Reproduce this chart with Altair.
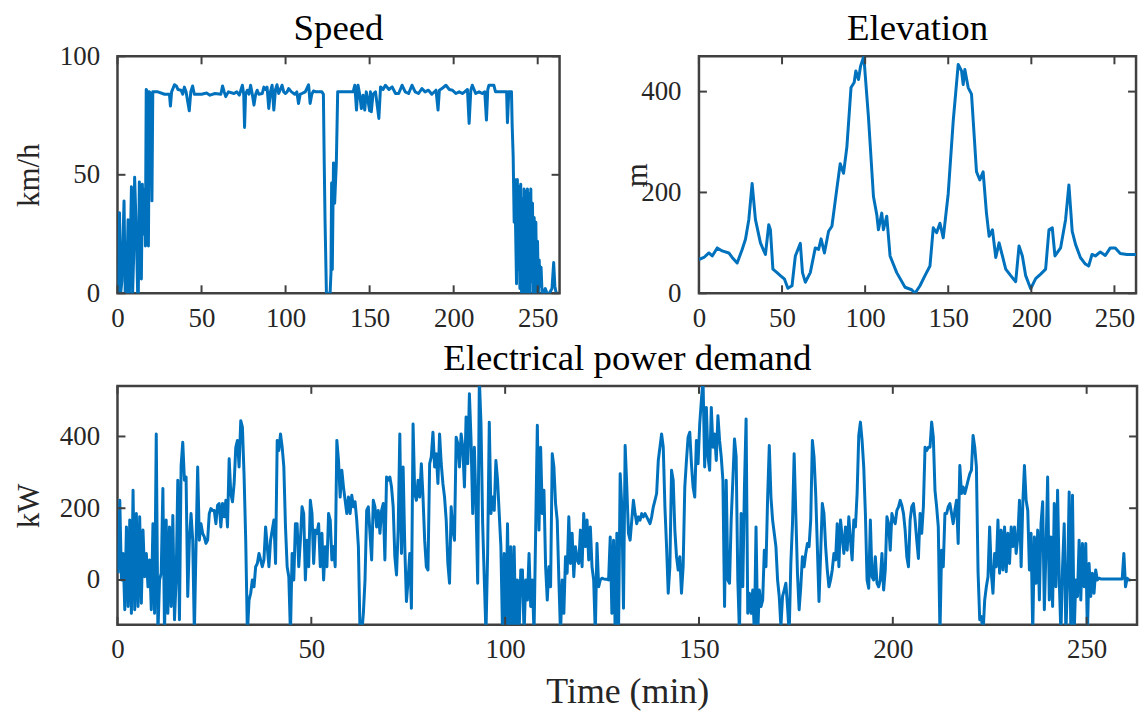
import altair as alt
import pandas as pd

# ---------------- data ----------------
X_TICKS = [0, 50, 100, 150, 200, 250]
X_DOMAIN = [0, 263]

speed_t = [0, 0.5, 1.2, 1.9, 2.6, 3.9, 4.6, 5.3, 6.3, 7.1, 8.3, 9.0, 9.6, 10.2, 10.8, 11.4,
           12.0, 12.4, 13.0, 13.7, 14.2, 14.8, 15.5, 16.2, 16.6, 17.1, 17.8, 18.4, 19.0, 20.0,
           20.5, 21.0, 24, 28, 30.9, 31.5, 32.2, 33.9, 35.0, 36.0, 37.8, 38.8, 39.8, 40.8,
           42.7, 43.6, 44.7, 45.7, 50, 53, 55, 58, 61.5, 62.5, 63.5, 64.4, 66, 69.3, 71, 72.5,
           74.3, 75.1, 75.6, 76.2, 77.2, 78.2, 79.2, 80.2, 81.2, 82.2, 83.1, 84.1, 86.1, 87.1,
           88.0, 89.0, 90.0, 91.0, 92.0, 93.0, 94.0, 94.9, 95.9, 96.9, 97.9, 98.9, 99.9, 100.9,
           101.8, 103.5, 105.5, 106.7, 107.7, 108.7, 109.7, 111.7, 113.7, 114.6, 115.6, 116.6,
           118, 121.6, 122.5, 123.0, 123.5, 124.3, 125.5, 126.5, 127.0, 127.4, 127.8, 128.5,
           129.2, 130.2, 131.0, 133, 136, 140.2, 141.2, 142.2, 143.1, 144.1, 145.1, 146.1,
           147.1, 148.0, 149.0, 150.0, 150.5, 151.0, 152.0, 153.5, 155.5, 156.5, 158, 159.4,
           161.5, 163.4, 165.4, 167.3, 169.3, 171.2, 173.2, 175.2, 177.1, 179.1, 181.1, 183.0,
           185.0, 187.0, 189.5, 190.7, 191.5, 193.0, 195.4, 197.4, 199.3, 201.3, 203.3, 205.2,
           206.5, 208.2, 209.2, 210.2, 211.1, 213.1, 215.1, 217.0, 218.5, 219.5, 220.3, 221.0,
           223.9, 224.9, 227, 230, 231.5, 232.0, 232.8, 234.4, 234.8, 235.4, 236.0, 236.4,
           236.9, 237.4, 237.9, 238.4, 238.9, 239.4, 239.9, 240.4, 240.9, 241.4, 241.9, 242.4,
           242.9, 243.4, 243.9, 244.4, 244.9, 245.4, 245.9, 246.4, 246.9, 247.4, 247.9, 248.4,
           248.9, 249.4, 249.9, 250.4, 250.9, 251.4, 252.0, 252.6, 253.5, 254.5, 255.5, 257,
           258.5, 259.5, 260.2, 261.0, 262.5]
speed_v = [0, 0, 34, 0, 5, 39, 0, 0, 31, 0, 45, 0, 15, 49, 35, 20,
           0, 0, 47, 30, 6, 46, 25, 44, 20, 86, 85, 20, 85, 84,
           39, 85, 85, 84, 84, 79, 85, 88, 87.5, 86, 85.7, 84, 87, 85,
           77, 85, 87.5, 84, 84, 84.5, 83.6, 84.3, 84, 87.5, 85, 83, 85, 84.3, 85, 83.6,
           87.8, 84, 70, 84, 85.7, 84, 87.8, 84, 79.4, 84, 85.7, 84, 84.3, 87,
           86, 87, 78, 85, 87.8, 77.3, 86, 88, 84.3, 86, 87.8, 85, 84.3, 85,
           86.4, 85, 84, 85, 80.1, 84, 84.3, 85, 88, 80.1, 84, 85.4,
           85, 85, 84, 55, 30, 0, 0, 0, 8.7, 46.5, 10, 55,
           38, 55, 85, 85, 85, 85, 87.8, 77.3, 87.8, 84, 78, 83.6,
           77.3, 85, 81.5, 77, 85, 76.6, 84, 85, 73.8, 87.1, 86, 87.8,
           86, 87.1, 84.3, 84.3, 87.8, 85, 84.3, 87.8, 85, 84.3, 86.4, 85,
           85.7, 84, 85.7, 77.3, 85.7, 86.4, 87.8, 86, 85.7, 84.3, 85, 84.3,
           85, 86, 71.7, 85.7, 87.8, 84.3, 85, 84.3, 85, 73.1, 86, 87.8,
           87.8, 85, 85, 85, 85, 72, 85, 85, 71, 58, 30, 48,
           25, 4, 48, 10, 45, 2, 46, 0, 40, 0, 44, 0,
           43, 0, 44, 0, 42, 0, 44, 5, 38, 0, 32, 0,
           30, 0, 22, 0, 14, 3, 11, 0, 0, 2, 0, 0,
           2, 13, 3, 0, 0]

elev_t = [0, 3, 6, 8, 11, 14, 18, 20, 23, 26, 28, 30, 32, 34, 37, 40, 42, 43, 44.5, 47,
          49, 51.5, 53.5, 56, 58, 61, 62.3, 64, 67, 70, 72, 73.5, 75.5, 78, 80, 83, 85, 87,
          89, 91.5, 93.4, 94.4, 96, 97.2, 99.2, 102, 105, 107, 108, 110, 111, 113, 115, 119,
          124, 128, 130, 133, 136, 139, 141, 143, 145, 147, 150, 153, 156, 158, 159, 160,
          162, 164, 167, 169, 171, 173, 174.6, 176.6, 178.6, 180.6, 182.6, 184.6, 187.6,
          190.6, 192.6, 194.6, 196.6, 199.6, 202.6, 205.6, 208.6, 210.6, 212.6, 214.2, 217.6,
          220.6, 222.6, 224.6, 226.6, 229.5, 232.5, 234.5, 236.5, 238.5, 241.5, 244.5, 247.5,
          250.5, 253.5, 257.5, 263]
elev_m = [67, 71, 80, 74, 90, 84, 80, 71, 60, 87, 107, 146, 218, 146, 100, 77, 136, 126, 48, 41,
          35, 28, 10, 15, 74, 99, 41, 22, 41, 90, 87, 108, 80, 123, 133, 208, 257, 238,
          290, 408, 418, 441, 424, 450, 470, 349, 192, 156, 126, 159, 126, 153, 74, 41,
          12, 7, 0, 15, 35, 54, 130, 120, 139, 110, 198, 342, 454, 441, 414, 444,
          408, 395, 241, 225, 241, 159, 113, 126, 71, 100, 74, 48, 35,
          23, 94, 74, 35, 9, 29, 38, 48, 126, 130, 74, 90,
          146, 215, 123, 97, 71, 58, 54, 77, 74, 82, 75, 90,
          90, 79, 77, 77]

# electrical power demand, kW, sampled every power_step minutes from power_start
power_start = 0.17
power_step = 0.4274
power_a = [19, 222, 0, 74, -83, 148, -74, 167, -93, 250, -83,
           185, -74, 176, -65, 139, 9, 74, -19, 56, -83,
           157, -93, 407, -150, 0, 19, 255, -150, 167, -93,
           148, -74, 180, -111, 0, 278, -111, 319, 384, 278,
           287, -46, 111, 185, 111, -150, 93, 315, 111, 157,
           130, 120, 102, 111, 185, 199, 194, 194, 157, 208,
           213, 148, 213, 176, 222, 148, 338, 241, 218, 269,
           370, 389, 315, 444, 426, 292, 111, -150, -56, -37,
           0, -19, 37, 46, 74, 56, 37, 56, 148, 93,
           37, 111, 139, 167, 46, 389, 361, 407, 370, 315,
           148, 37, 9, -150, 74, 0, 157, 157, 37, 111,
           204, 185, 0, 111, 37, 222, 185, 46, 139, 130]
power_b = [157, 37, 130, 0, 93, 37, 185, 167, 56, 93,
           37, 389, 333, 231, 306, 259, 222, 185, 231, 185,
           236, 204, 218, 167, 93, -150, -150, -93, 0, 194,
           204, 130, 56, 222, 204, 148, 194, 130, 194, 213,
           56, 287, 278, 287, 259, 204, 65, 14, 139, 407,
           74, 315, 93, -60, 0, 74, -79, 435, 241, 222,
           278, 231, 324, 231, 111, 37, 28, 324, 343, 412,
           315, 352, 269, 407, 324, 269, 231, 167, 46, -9,
           204, 139, 111, 398, 380, 315, 407, 370, 259, 454,
           324, 519, 389, 185, 370, 204, -9, 560, 435, 157,
           0, -150, 74, 440, 185, 231, 194, 333, 278, 185,
           93, -150, 74, -150, 157, -150, 93, -150, 93, -150,
           0, -150, 28]
power_c = [28, -150, 0, -56, 74, -74, 0, -150, 139, 431,
           139, 370, 185, 250, 37, -56, 37, -19, 352, 315,
           213, 167, 0, -150, 0, -93, 65, 19, 176, 46,
           130, 9, 93, 56, 46, 139, 37, 185, 93, 167,
           56, 148, 37, 0, -150, 102, -19, 0, 5, 3,
           2, 2, 0, 120, -93, 111, -150, 130, -150, 296,
           204, -79, 375, 259, 130, 111, 167, 222, 185, 157,
           176, 167, 185, 176, 185, 176, 167, 157, 176, 204,
           222, 241, 333, 370, 407, 370, 204, 93, -37, 37,
           306, 278, 139, 65, 28, 65, -37, 37, 259, 333,
           398, 412, 324, 259, 231, 389, 324, 435, 500, 560,
           315, 481, 343, 306, 481, 370, 407, 333, 458, 389,
           343, 278, -74]
power_d = [278, 0, -9, 167, 278, 393, 343, 0, -150, 185,
           -19, 259, 449, -93, -37, -93, -28, -150, 148, -150,
           -28, -74, -56, 83, 37, 231, 375, 231, 167, 130,
           93, 0, -46, -130, -46, -28, -9, -74, -150, 46,
           157, 352, 185, 19, -83, -19, 65, 37, 74, 102,
           93, 167, 389, 343, 241, 93, -60, 74, 213, 185,
           93, 28, -19, 0, 28, 74, 56, 157, 37, 167,
           120, 74, 148, 83, 176, 111, 56, 167, 148, 241,
           403, 440, 389, 315, 185, 0, -23, 167, 9, 0,
           65, -9, -19, 0, 74, -28, 28, 176, 157, 83,
           185, 167, 157, 194, 204, 222, 208, 185, 139, 65,
           37, 167, 204, 213, 167, 111, 60, 185, 130, 204,
           370, 361, 370]
power_e = [370, 440, 398, 250, 204, 148, -150, 83, 37, 185,
           185, 204, 213, 185, 157, 194, 222, 102, 319, 241,
           259, 241, 259, 278, 296, 306, 403, 370, 315, 23,
           -111, -102, -150, -56, -19, 9, 148, 19, -37, 74,
           37, 167, 19, 139, 28, 148, 23, 130, 46, 148,
           93, 148, 74, 120, 222, 37, 213, 319, 222, 194,
           28, 130, -150, 120, -9, 139, -56, 157, 218, -83,
           83, 287, -56, 120, -74, 213, -19, 250, 0, -150,
           37, 157, -150, 0, 245, -150, 236, -150, 0, -46,
           111, -56, 102, -19, 102, -150, 46, -46, 19, -37,
           28, 0, 5, 3, 3, 3, 3, 3, 3, 3,
           3, 3, 3, 3, 3, 3, 3,
           74, -19, 5, 0, 0]

# ---------------- styling ----------------
FONT = "Liberation Serif"
BLUE = "#0072BD"
AXIS = "#404040"
TEXT = "#262626"
TL = 8  # inward tick length
LABEL_SIZE = 27
TITLE_SIZE = 37
YTITLE_SIZE = 31
XTITLE_SIZE = 36

power_kw = power_a + power_b + power_c + power_d + power_e
power_t = [power_start + i * power_step for i in range(len(power_kw))]

speed_df = pd.DataFrame({"t": speed_t, "v": speed_v})
elev_df = pd.DataFrame({"t": elev_t, "v": elev_m})
power_df = pd.DataFrame({"t": power_t, "v": power_kw})


def panel(df, ydomain, yticks, w, h, title, ytitle, ytitle_x, xtitle=None):
    xs = alt.Scale(domain=X_DOMAIN, nice=False, zero=False)
    ys = alt.Scale(domain=ydomain, nice=False, zero=False)
    common = dict(labelFont=FONT, labelFontSize=LABEL_SIZE, labelColor=TEXT,
                  labelOverlap=False, ticks=False, domain=False, grid=False)
    if xtitle:
        xaxis = alt.Axis(values=X_TICKS, labelFlush=False, labelPadding=12,
                         title=xtitle, titleFont=FONT, titleFontSize=XTITLE_SIZE,
                         titleFontWeight="normal", titleColor=TEXT, titlePadding=12,
                         **common)
    else:
        xaxis = alt.Axis(values=X_TICKS, labelFlush=False, labelPadding=12,
                         title=None, **common)
    yaxis = alt.Axis(values=yticks, labelPadding=18, title=ytitle, titleFont=FONT,
                     titleFontSize=YTITLE_SIZE, titleFontWeight="normal",
                     titleColor=TEXT, titleX=ytitle_x, titleY=h / 2,
                     titleBaseline="middle", titleAlign="center", titleAngle=270,
                     **common)
    line = alt.Chart(df).mark_line(color=BLUE, strokeWidth=3, clip=True,
                                   strokeJoin="round").encode(
        x=alt.X("t:Q", scale=xs, axis=xaxis),
        y=alt.Y("v:Q", scale=ys, axis=yaxis),
    )
    xt = pd.DataFrame({"t": X_TICKS})
    yt = pd.DataFrame({"v": yticks})
    rule = dict(color=AXIS, strokeWidth=2)
    bx = alt.Chart(xt).mark_rule(**rule).encode(
        x=alt.X("t:Q", scale=xs, axis=xaxis), y=alt.value(h), y2=alt.value(h - TL))
    tx = alt.Chart(xt).mark_rule(**rule).encode(
        x=alt.X("t:Q", scale=xs, axis=xaxis), y=alt.value(0), y2=alt.value(TL))
    ly = alt.Chart(yt).mark_rule(**rule).encode(
        y=alt.Y("v:Q", scale=ys, axis=yaxis), x=alt.value(0), x2=alt.value(TL))
    ry = alt.Chart(yt).mark_rule(**rule).encode(
        y=alt.Y("v:Q", scale=ys, axis=yaxis), x=alt.value(w), x2=alt.value(w - TL))
    ttl = alt.Chart(pd.DataFrame({"label": [title]})).mark_text(
        font=FONT, fontSize=TITLE_SIZE, color="#000000", align="center",
        baseline="middle").encode(text="label:N", x=alt.value(w / 2), y=alt.value(-27))
    return alt.layer(line, bx, tx, ly, ry, ttl).properties(width=w, height=h)


speed = panel(speed_df, [0, 100], [0, 50, 100], 444, 238, "Speed", "km/h", -88)
elev = panel(elev_df, [0, 470], [0, 200, 400], 439, 238, "Elevation", "m", -62)
power = panel(power_df, [-125, 541], [0, 200, 400], 1024, 240,
              "Electrical power demand", "kW", -88, xtitle="Time (min)")

top = alt.hconcat(speed, elev, spacing=140, bounds="flush")
chart = alt.vconcat(top, power, spacing=5).properties(
    padding={"left": 12, "top": 7, "right": 5, "bottom": 5},
    background="white",
).configure_view(stroke=AXIS, strokeWidth=2.5)

chart.save("out.html", embed_options={"renderer": "svg", "actions": False})
